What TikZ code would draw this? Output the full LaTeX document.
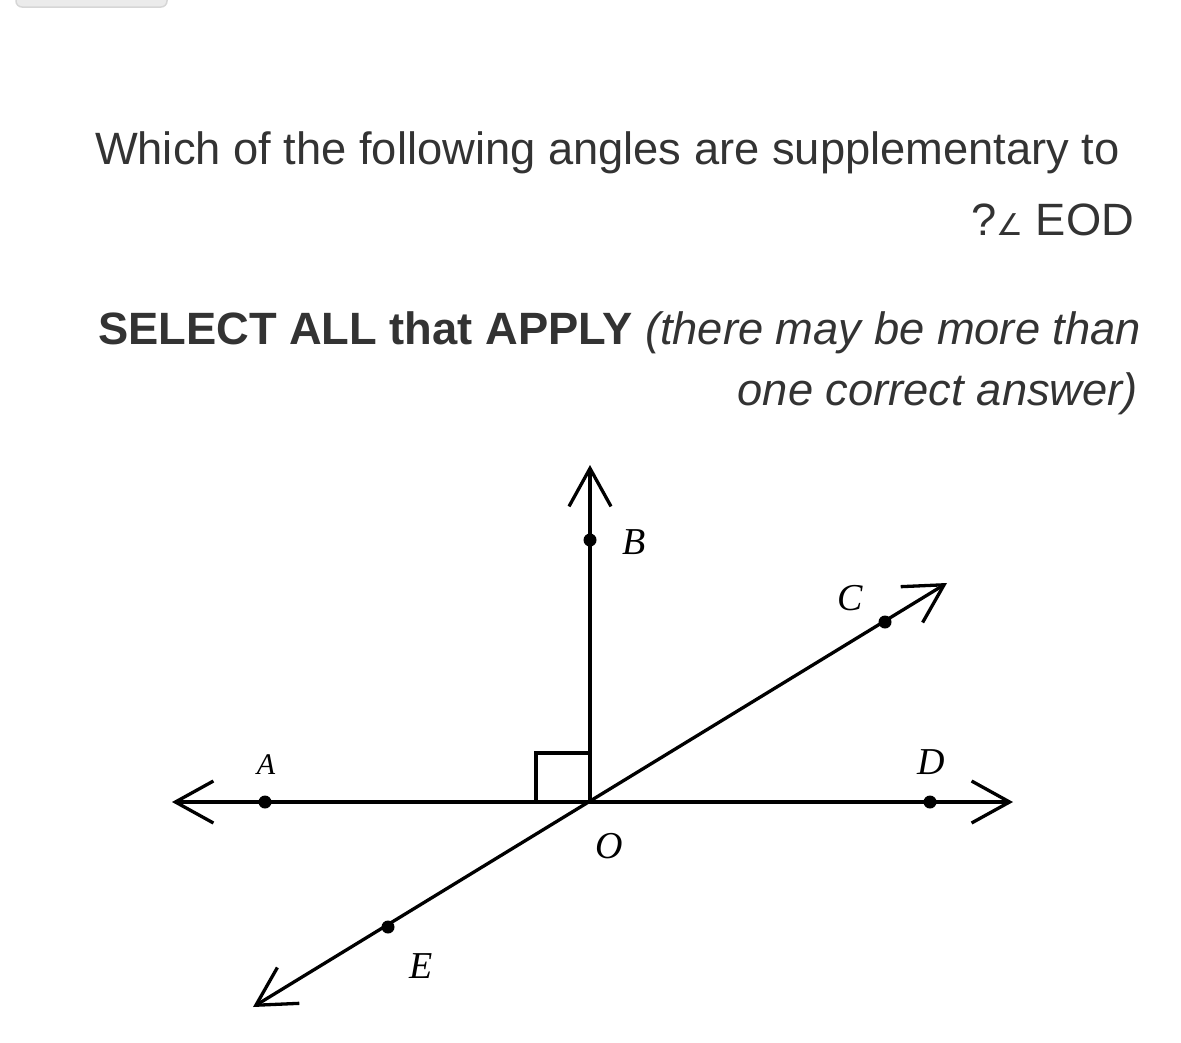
\documentclass[tikz,border=0pt]{standalone}
\usepackage{fontspec}
\setmainfont{Liberation Sans}
\newfontfamily\labelfont{Liberation Serif}
\newfontfamily\symfont{DejaVu Sans}
\usetikzlibrary{arrows.meta,positioning}
\definecolor{qtext}{HTML}{333333}
\definecolor{btnfill}{HTML}{EBEBEB}
\definecolor{btnedge}{HTML}{D6D6D6}
\tikzstyle{qline}=[inner sep=0pt, outer sep=0pt, text=qtext, font=\fontsize{45.3}{54}\selectfont]
\tikzstyle{barb}=[line width=3.3pt]
\tikzstyle{ray}=[line width=3.3pt, -{Straight Barb[length=38pt,width=42pt,line width=3.3pt]}]
\tikzstyle{line}=[line width=3.3pt, {Straight Barb[length=38pt,width=42pt,line width=3.3pt]}-{Straight Barb[length=38pt,width=42pt,line width=3.3pt]}]
\tikzstyle{ptdot}=[circle, fill=black, inner sep=0pt, minimum size=13pt]
\tikzstyle{ptlabel}=[font=\labelfont\itshape\fontsize{38}{40}\selectfont, inner sep=0pt]

\begin{document}
\begin{tikzpicture}[x=1pt,y=-1pt]
  \useasboundingbox (0,0) rectangle (1181,1042);
  \draw[btnedge, fill=btnfill, line width=1.5pt, rounded corners=6pt] (16,-20) rectangle (167,7);

  % question text
  \node[qline, anchor=base west] (q1) at (95,164) {Which of the following angles are supplementary to};
  \node[qline, anchor=base east] (q2) at (1134,235) {?{\symfont\fontsize{30}{30}\selectfont ∠} EOD};
  \node[qline, anchor=base west] (q3) at (98,344) {\bfseries SELECT ALL that APPLY \mdseries\itshape (there may be more than};
  \node[qline, anchor=base east, font=\fontsize{45.3}{54}\selectfont\itshape] (q4) at (1138,405) {one correct answer)};

  % rays
  \coordinate (O) at (590,802);
  \coordinate (Atip) at (172,802);
  \coordinate (Dtip) at (1013,802);
  \coordinate (Btip) at (590,465);
  \coordinate (Ctip) at (947,583);
  \coordinate (Etip) at (253,1007);

  \draw[line] (Atip) -- (Dtip);
  \draw[line] (Etip) -- (Ctip);
  \draw[ray] (O) -- (Btip);
  \draw[barb] (O) ++(-54,0) -- ++(0,-49) -- ++(54,0);

  \node[ptdot] (A) at (265,802) {};
  \node[ptdot] (B) at (590,540) {};
  \node[ptdot] (C) at (885,622) {};
  \node[ptdot] (D) at (930,802) {};
  \node[ptdot] (E) at (388,927) {};

  \node[ptlabel, font=\labelfont\itshape\fontsize{30}{32}\selectfont] (lA) at (266,765) {A};
  \node[ptlabel] (lB) at (634,542) {B};
  \node[ptlabel] (lC) at (850,598) {C};
  \node[ptlabel] (lD) at (931,762) {D};
  \node[ptlabel] (lE) at (421,966) {E};
  \node[ptlabel] (lO) at (609,846) {O};
\end{tikzpicture}
\end{document}
